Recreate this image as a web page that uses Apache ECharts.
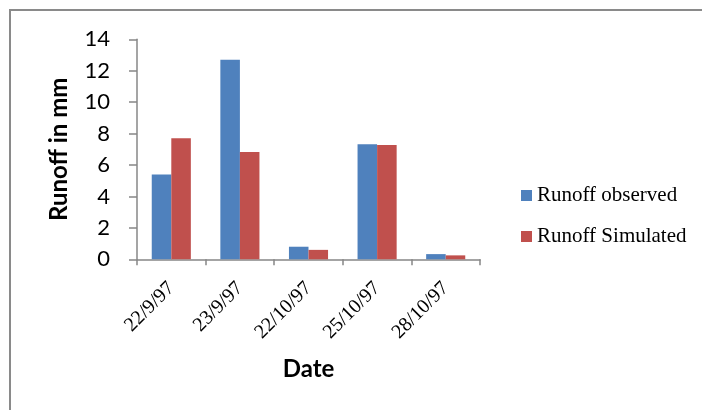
<!DOCTYPE html>
<html>
<head>
<meta charset="utf-8">
<script src="https://cdn.jsdelivr.net/npm/echarts@6/dist/echarts.min.js"></script>
<style>
  html, body { margin: 0; padding: 0; background: #fff; }
  #chart { width: 702px; height: 410px; }
</style>
</head>
<body>
<div id="chart"></div>
<script>
// Event dates and runoff depths (mm)
const dates = ['22/9/97', '23/9/97', '22/10/97', '25/10/97', '28/10/97'];
const runoffObserved = [5.4, 12.7, 0.8, 7.32, 0.33];
const runoffSimulated = [7.7, 6.83, 0.6, 7.28, 0.25];
const yTicks = [0, 2, 4, 6, 8, 10, 12, 14];

const axisGray = '#878787';
const chart = echarts.init(document.getElementById('chart'));

chart.setOption({
  animation: false,
  backgroundColor: '#fff',
  graphic: [{
    type: 'rect',
    shape: { x: 10, y: 10, width: 900, height: 600 },
    style: { fill: 'none', stroke: '#8a8a8a', lineWidth: 2 },
    silent: true
  }],
  grid: { left: 137, top: 39.3, right: 222, bottom: 150.7, containLabel: false },
  legend: {
    orient: 'vertical',
    left: 521,
    top: 185,
    padding: 0,
    itemWidth: 11,
    itemHeight: 11,
    itemGap: 20,
    icon: 'rect',
    textStyle: { fontFamily: 'Liberation Serif', fontSize: 21, color: '#000' },
    data: ['Runoff observed', 'Runoff Simulated']
  },
  xAxis: {
    type: 'category',
    data: dates,
    name: 'Date',
    nameLocation: 'middle',
    nameGap: 98,
    nameTextStyle: { fontFamily: 'Lato', fontWeight: 'bold', fontSize: 24, color: '#000' },
    axisLine: { lineStyle: { color: axisGray, width: 1.5 } },
    axisTick: { show: true, length: 6, lineStyle: { color: axisGray, width: 1.5 } },
    axisLabel: {
      rotate: 45,
      margin: 26,
      fontFamily: 'Liberation Serif',
      fontSize: 20,
      color: '#000'
    }
  },
  yAxis: {
    type: 'value',
    min: yTicks[0],
    max: yTicks[yTicks.length - 1],
    interval: 2,
    name: 'Runoff in mm',
    nameLocation: 'middle',
    nameGap: 66,
    nameRotate: 90,
    nameTextStyle: { fontFamily: 'Lato', fontWeight: 'bold', fontSize: 24, color: '#000' },
    axisLine: { show: true, lineStyle: { color: axisGray, width: 1.5 } },
    axisTick: { show: true, length: 8, lineStyle: { color: axisGray, width: 1.5 } },
    splitLine: { show: false },
    axisLabel: { margin: 27, fontFamily: 'Lato', fontSize: 22, color: '#000' }
  },
  series: [
    {
      name: 'Runoff observed',
      type: 'bar',
      data: runoffObserved,
      barGap: '0%',
      barCategoryGap: '43%',
      itemStyle: { color: '#4F81BD' }
    },
    {
      name: 'Runoff Simulated',
      type: 'bar',
      data: runoffSimulated,
      barGap: '0%',
      barCategoryGap: '43%',
      itemStyle: { color: '#C0504D' }
    }
  ]
});
</script>
</body>
</html>
